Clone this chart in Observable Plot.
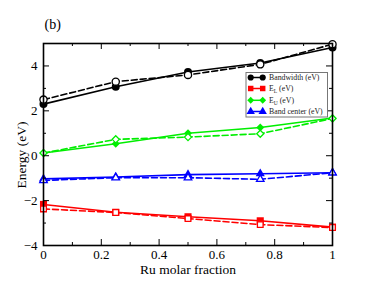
<!DOCTYPE html>
<html><head><meta charset="utf-8">
<script src="https://cdn.jsdelivr.net/npm/d3@7"></script>
<script src="https://cdn.jsdelivr.net/npm/@observablehq/plot@0.6"></script>
<style>body{margin:0;background:#fff}#c{position:relative;width:374px;height:289px}#c svg{position:absolute;left:0;top:0}#c svg text,#c svg tspan{font-family:"Liberation Serif","DejaVu Serif",serif !important}</style>
</head><body><div id="c"></div>
<script>
const xFrac = [0, 0.25, 0.5, 0.75, 1];
const bandwidthSolid = [2.3, 3.07, 3.73, 4.13, 4.82];
const bandwidthDashed = [2.5, 3.3, 3.6, 4.07, 4.97];
const euSolid = [0.12, 0.53, 1.0, 1.26, 1.68];
const euDashed = [0.12, 0.73, 0.83, 0.98, 1.66];
const bcSolid = [-1.03, -0.95, -0.84, -0.8, -0.76];
const bcDashed = [-1.1, -0.98, -0.98, -1.05, -0.76];
const elSolid = [-2.17, -2.52, -2.72, -2.9, -3.18];
const elDashed = [-2.37, -2.53, -2.8, -3.07, -3.2];
const xMajor = [0, 0.2, 0.4, 0.6, 0.8, 1];
const xMinor = [0.1, 0.3, 0.5, 0.7, 0.9];
const yMajor = [-4, -2, 0, 2, 4];
const yMinor = [-3, -1, 1, 3];

const series = [
  {name: "Bandwidth (eV)", color: "#000000", symbol: "circle", r: 4, ro: 3.6, solid: bandwidthSolid, dashed: bandwidthDashed},
  {name: "E_L (eV)", color: "#ff0000", symbol: "square", r: 4, ro: 3.2, solid: elSolid, dashed: elDashed},
  {name: "E_U (eV)", color: "#00ee00", symbol: "diamond2", r: 3.6, ro: 3.2, solid: euSolid, dashed: euDashed},
  {name: "Band center (eV)", color: "#0000ff", symbol: "triangle", r: 3.4, ro: 2.8, solid: bcSolid, dashed: bcDashed}
];
const pts = (vals) => xFrac.map((x, i) => ({x, y: vals[i]}));

const marks = [];
for (const s of series) {
  marks.push(Plot.line(pts(s.dashed), {x: "x", y: "y", stroke: s.color, strokeWidth: 1.6, strokeDasharray: "6,3"}));
  marks.push(Plot.line(pts(s.solid), {x: "x", y: "y", stroke: s.color, strokeWidth: 1.6}));
}
for (const s of series) {
  marks.push(Plot.dot(pts(s.solid), {x: "x", y: "y", symbol: s.symbol, fill: s.color, r: s.r}));
  marks.push(Plot.dot(pts(s.dashed), {x: "x", y: "y", symbol: s.symbol, fill: "white", stroke: s.color, strokeWidth: 1.3, r: s.ro}));
}
const FW = 289, FH = 202;
const serif = "Liberation Serif";
const chart = Plot.plot({
  width: 374, height: 289,
  marginLeft: 43, marginRight: 42, marginTop: 43, marginBottom: 44,
  x: {domain: [0, 1]},
  y: {domain: [-4, 5]},
  style: {fontFamily: "'Liberation Serif', serif", fontSize: "12px", background: "white", color: "black"},
  marks: [
    ...marks,
    Plot.tickX(xMajor, {x: d => d, insetTop: FH - 6, stroke: "black", strokeWidth: 1}),
    Plot.tickX(xMinor, {x: d => d, insetTop: FH - 3, stroke: "black", strokeWidth: 1}),
    Plot.tickX(xMajor, {x: d => d, insetBottom: FH - 6, stroke: "black", strokeWidth: 1}),
    Plot.tickX(xMinor, {x: d => d, insetBottom: FH - 3, stroke: "black", strokeWidth: 1}),
    Plot.tickY(yMajor, {y: d => d, insetRight: FW - 6, stroke: "black", strokeWidth: 1}),
    Plot.tickY(yMinor, {y: d => d, insetRight: FW - 3, stroke: "black", strokeWidth: 1}),
    Plot.tickY(yMajor, {y: d => d, insetLeft: FW - 6, stroke: "black", strokeWidth: 1}),
    Plot.tickY(yMinor, {y: d => d, insetLeft: FW - 3, stroke: "black", strokeWidth: 1}),
    Plot.axisX(xMajor, {tickSize: 0, tickPadding: 4, label: null, fontSize: 13, fontFamily: serif, tickFormat: d => String(d)}),
    Plot.axisY(yMajor, {tickSize: 0, tickPadding: 6, label: null, fontSize: 13, fontFamily: serif}),
    Plot.frame({stroke: "black", strokeWidth: 1.6}),
    Plot.text(["Ru molar fraction"], {frameAnchor: "bottom", dy: 28, fontSize: 13.5, fontFamily: serif, text: d => d}),
    Plot.text(["(b)"], {frameAnchor: "top-left", dx: 1, dy: -24, fontSize: 14, fontFamily: serif, textAnchor: "start", text: d => d})
  ]
});
document.getElementById("c").appendChild(chart);

// overlay: y label and legend
const lg = d3.select("#c").append("svg").attr("width", 374).attr("height", 289)
  .style("pointer-events", "none");
lg.append("text").attr("transform", "translate(22,155) rotate(-90)").attr("text-anchor", "middle")
  .attr("dy", "0.32em").attr("font-size", 13.5).text("Energy (eV)");
lg.append("rect").attr("x", 246).attr("y", 72.5).attr("width", 81.5).attr("height", 44.5)
  .attr("fill", "white").attr("stroke", "#777").attr("stroke-width", 1);
const rowY = [77.5, 88.5, 100.3, 111.5];
const symMap = {circle: d3.symbolCircle, square: d3.symbolSquare, diamond2: d3.symbolDiamond2, triangle: d3.symbolTriangle};
series.forEach((s, i) => {
  const y = rowY[i];
  lg.append("line").attr("x1", 250.7).attr("x2", 262.7).attr("y1", y).attr("y2", y)
    .attr("stroke", s.color).attr("stroke-width", 1.5);
  for (const x of [250.7, 262.7]) {
    lg.append("path").attr("d", d3.symbol(symMap[s.symbol], 30)()).attr("transform", `translate(${x},${y})`).attr("fill", s.color);
  }
  const t = lg.append("text").attr("x", 269).attr("y", y).attr("dy", "0.32em").attr("font-size", 7.8).attr("fill", "#222");
  if (s.name.startsWith("E_")) {
    t.append("tspan").text("E");
    t.append("tspan").attr("font-size", 5.5).attr("dy", 2).text(s.name[2]);
    t.append("tspan").attr("dy", -2).text(" (eV)");
  } else {
    t.text(s.name);
  }
});
</script>
</body></html>
